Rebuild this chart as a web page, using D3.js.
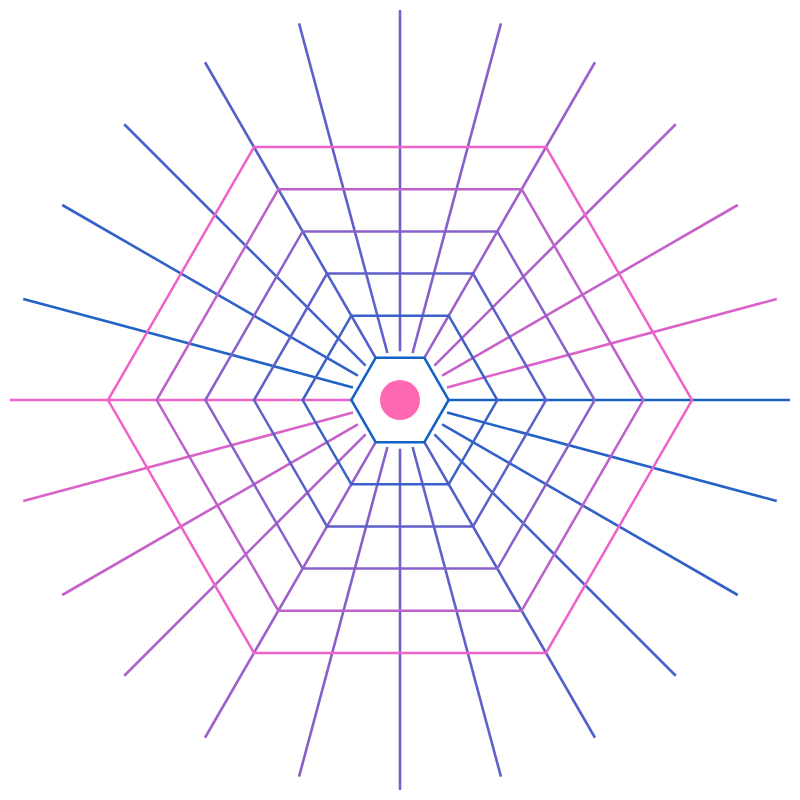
<!DOCTYPE html>
<html>
<head>
<meta charset="utf-8">
<script src="https://cdn.jsdelivr.net/npm/d3@7"></script>
<style>
  html, body { margin: 0; padding: 0; background: #fff; }
  svg { display: block; }
</style>
</head>
<body>
<svg id="chart" width="800" height="800"></svg>
<script>
// Hexagon rings (index 1 = innermost) and their colour mix (0 = blue, 1 = pink)
const rings = [1, 2, 3, 4, 5, 6];
const ringMix = [0, 0.2, 0.4, 0.6, 0.8, 1];
// Radial spokes: angle in degrees (clockwise from 3 o'clock) and colour mix
const spokeAngles = [0, 15, 30, 45, 60, 75, 90, 105, 120, 135, 150, 165,
                     180, 195, 210, 225, 240, 255, 270, 285, 300, 315, 330, 345];
const spokeMix = [0, 0.083, 0.167, 0.25, 0.333, 0.417, 0.5, 0.583, 0.667, 0.75, 0.833, 0.917,
                  1, 0.083, 0.167, 0.25, 0.333, 0.417, 0.5, 0.583, 0.667, 0.75, 0.833, 0.917];
const paletteStops = [0, 0.5, 1];
const paletteColors = ["#1562c4", "#7060cc", "#f062c8"];
const dotColor = "#ff69b4";

const cx = 400, cy = 400;
const svg = d3.select("#chart");
const g = svg.append("g").attr("transform", `translate(${cx},${cy})`);

const color = d3.scaleLinear().domain(paletteStops).range(paletteColors).interpolate(d3.interpolateRgb);
const ringR = d3.scaleLinear().domain([0, 6]).range([0, 292]);
const spokeInner = ringR(1);
const spokeOuter = 390;
const rad = a => a * Math.PI / 180;

// spokes
g.selectAll("line.spoke")
  .data(spokeAngles)
  .join("line")
  .attr("class", "spoke")
  .attr("x1", a => spokeInner * Math.cos(rad(a)))
  .attr("y1", a => spokeInner * Math.sin(rad(a)))
  .attr("x2", a => spokeOuter * Math.cos(rad(a)))
  .attr("y2", a => spokeOuter * Math.sin(rad(a)))
  .attr("stroke", (a, i) => color(spokeMix[i]))
  .attr("stroke-width", 2.6);

// hexagons
const hexPath = r => {
  const pts = d3.range(6).map(k => [r * Math.cos(k * Math.PI / 3), r * Math.sin(k * Math.PI / 3)]);
  return d3.line()(pts) + "Z";
};
g.selectAll("path.ring")
  .data(rings)
  .join("path")
  .attr("class", "ring")
  .attr("d", k => hexPath(ringR(k)))
  .attr("fill", "none")
  .attr("stroke", (k, i) => color(ringMix[i]))
  .attr("stroke-width", 2.5)
  .attr("stroke-linejoin", "miter");

// centre dot
g.append("circle").attr("r", 20).attr("fill", dotColor);
</script>
</body>
</html>
